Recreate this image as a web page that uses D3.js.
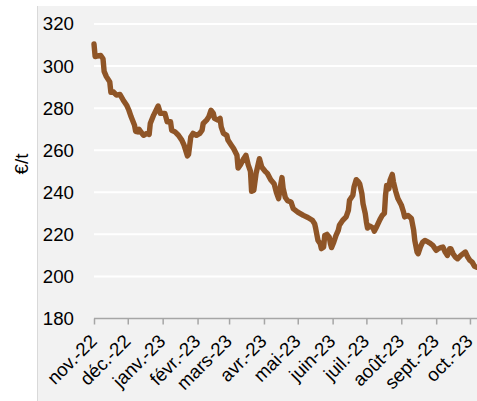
<!DOCTYPE html>
<html><head><meta charset="utf-8">
<script src="https://cdn.jsdelivr.net/npm/d3@7"></script>
<style>html,body{margin:0;padding:0;background:#fff;overflow:hidden}svg{display:block}</style>
</head><body>
<svg id="c" width="477" height="401"></svg>
<script>
const dates = ["2022-11-01","2022-11-02","2022-11-04","2022-11-07","2022-11-09","2022-11-10","2022-11-12","2022-11-15","2022-11-16","2022-11-18","2022-11-21","2022-11-24","2022-11-27","2022-11-30","2022-12-02","2022-12-04","2022-12-07","2022-12-08","2022-12-10","2022-12-11","2022-12-13","2022-12-15","2022-12-18","2022-12-20","2022-12-21","2022-12-24","2022-12-28","2022-12-30","2023-01-03","2023-01-05","2023-01-08","2023-01-09","2023-01-12","2023-01-15","2023-01-18","2023-01-20","2023-01-23","2023-01-24","2023-01-26","2023-01-28","2023-01-31","2023-02-03","2023-02-05","2023-02-06","2023-02-09","2023-02-11","2023-02-13","2023-02-15","2023-02-16","2023-02-19","2023-02-21","2023-02-22","2023-02-24","2023-02-27","2023-02-28","2023-03-02","2023-03-03","2023-03-05","2023-03-08","2023-03-09","2023-03-11","2023-03-14","2023-03-16","2023-03-18","2023-03-20","2023-03-21","2023-03-23","2023-03-25","2023-03-28","2023-03-30","2023-04-02","2023-04-04","2023-04-07","2023-04-10","2023-04-12","2023-04-14","2023-04-16","2023-04-17","2023-04-18","2023-04-20","2023-04-22","2023-04-25","2023-04-27","2023-05-01","2023-05-06","2023-05-10","2023-05-14","2023-05-16","2023-05-17","2023-05-19","2023-05-21","2023-05-22","2023-05-24","2023-05-25","2023-05-27","2023-05-29","2023-05-30","2023-05-31","2023-06-02","2023-06-04","2023-06-06","2023-06-07","2023-06-10","2023-06-13","2023-06-15","2023-06-16","2023-06-19","2023-06-20","2023-06-22","2023-06-24","2023-06-25","2023-06-27","2023-06-28","2023-06-30","2023-07-01","2023-07-02","2023-07-04","2023-07-07","2023-07-08","2023-07-10","2023-07-13","2023-07-15","2023-07-17","2023-07-18","2023-07-19","2023-07-21","2023-07-22","2023-07-24","2023-07-25","2023-07-27","2023-07-29","2023-08-01","2023-08-03","2023-08-04","2023-08-07","2023-08-10","2023-08-12","2023-08-13","2023-08-15","2023-08-16","2023-08-18","2023-08-20","2023-08-22","2023-08-25","2023-08-27","2023-08-29","2023-08-31","2023-09-01","2023-09-03","2023-09-05","2023-09-07","2023-09-09","2023-09-11","2023-09-13","2023-09-14","2023-09-16","2023-09-18","2023-09-20","2023-09-23","2023-09-25","2023-09-27","2023-09-29","2023-10-01","2023-10-03","2023-10-05","2023-10-07"];
const prices = [310.5,304.5,304.8,305,303.5,297.5,295,292.5,287.5,287.8,286.2,286.5,283.8,281.4,279,275.9,271.9,269,268.7,270,268.4,267.1,268,267.5,272.7,276.7,281,277.5,277.5,273.5,273.5,269.5,268.7,267.1,264.8,262.4,257.3,258,266.3,268,267.1,268,269.5,272.7,274.3,275.9,279,277.5,275.1,274.3,275.1,271.1,268,267.1,264.8,263.2,262.4,260.8,257.6,251.5,253,256,257.6,253,250,240.5,241,249,256,252,250,249,246,244.1,240,237,244,247,242,237.5,236,235.4,232.2,230.6,229,228,226.7,225.1,222.7,217.1,215.6,213.2,214,219.5,220,218.7,215.6,213.7,216.3,219.5,221.9,224.3,226.7,228.3,231.4,236.2,238.6,242.5,246,244.9,244.1,239.4,234.6,229.9,225.9,223,224,223,221.5,223.5,227,229,230,238.6,243.3,241.7,245.7,248.5,245,240.5,237,234,230.6,228.3,229,227.5,221.9,217.1,211.6,210.8,214,216.3,217.1,216.3,215.6,214.8,213.2,212.4,213.2,213.7,214,211.6,210,213.2,213.2,210.8,209.2,208.4,210,210.8,211.6,209.2,207.6,206.8,204.8,204.4];
const monthStarts = ["2022-11-01","2022-12-01","2023-01-01","2023-02-01","2023-03-01","2023-04-01","2023-05-01","2023-06-01","2023-07-01","2023-08-01","2023-09-01","2023-10-01"];
const monthLabels = ["nov.-22","déc.-22","janv.-23","févr.-23","mars-23","avr.-23","mai-23","juin-23","juil.-23","août-23","sept.-23","oct.-23"];
const yTicks = [180,200,220,240,260,280,300,320];
const yLabel = "€/t";

const parse = d3.utcParse("%Y-%m-%d");
const data = dates.map((d,i)=>({date:parse(d), v:prices[i]}));
const svg = d3.select("#c");
const FONT = "'Liberation Sans', Arial, sans-serif";

// panel background
svg.append("rect").attr("x",37).attr("y",6).attr("width",440).attr("height",395).attr("fill","#f2f2f2");
svg.append("line").attr("x1",37.5).attr("x2",37.5).attr("y1",6).attr("y2",401).attr("stroke","#d9d9d9").attr("stroke-width",1);

const x = d3.scaleUtc().domain([parse("2022-11-01"), parse("2023-10-07")]).range([94, 476.7]);
const y = d3.scaleLinear().domain([180,320]).range([318.5, 24]);

// gridlines
svg.append("g").selectAll("line").data(yTicks.filter(t=>t>180)).join("line")
  .attr("x1",94).attr("x2",477).attr("y1",d=>y(d)).attr("y2",d=>y(d))
  .attr("stroke","#ffffff").attr("stroke-width",2);

// y axis labels
const ya = svg.append("g").attr("transform","translate(74,0)")
  .call(d3.axisLeft(y).tickValues(yTicks).tickSize(0).tickPadding(0));
ya.select(".domain").remove();
ya.selectAll("text").attr("font-family",FONT).attr("font-size","18.7px").attr("fill","#000");

// x axis
const xa = svg.append("g").attr("transform",`translate(0,${y(180)})`)
  .call(d3.axisBottom(x).tickValues(monthStarts.map(parse)).tickSize(6)
    .tickFormat((d,i)=>monthLabels[i]));
xa.select(".domain").attr("d",`M94,0H477`).attr("stroke","#a6a6a6").attr("stroke-width",1.5);
xa.selectAll(".tick line").attr("stroke","#a6a6a6").attr("stroke-width",1.5);
xa.selectAll(".tick text")
  .attr("font-family",FONT).attr("font-size","18.7px").attr("fill","#000")
  .attr("text-anchor","end").attr("y",0).attr("dy",0)
  .attr("transform","translate(3.5,24) rotate(-45)");

// y title
svg.append("text").attr("transform","translate(28,164) rotate(-90)")
  .attr("text-anchor","middle").attr("font-family",FONT).attr("font-size","18.7px")
  .attr("fill","#000").text(yLabel);

// line
const line = d3.line().x(d=>x(d.date)).y(d=>y(d.v)).curve(d3.curveLinear);
svg.append("path").datum(data).attr("d",line).attr("fill","none")
  .attr("stroke","#8f5527").attr("stroke-width",5.4)
  .attr("stroke-linejoin","round").attr("stroke-linecap","round");
</script>
</body></html>
